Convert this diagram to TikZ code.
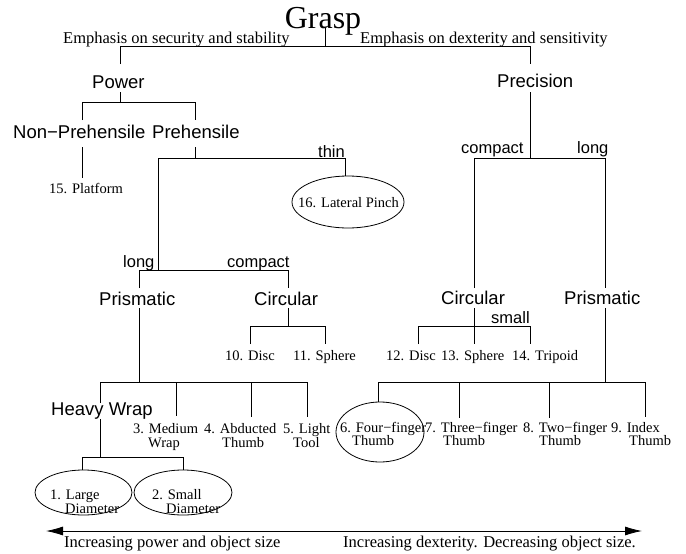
\documentclass[tikz,border=0pt]{standalone}
\usepackage{fontspec}
\setmainfont{Liberation Serif}
\setsansfont{Liberation Sans}
\usetikzlibrary{shapes.geometric,arrows.meta}
\begin{document}
\begin{tikzpicture}[x=1pt,y=-1pt,
  lbl/.style={inner sep=0pt, anchor=base west},
  sml/.style={lbl, font=\fontsize{14.5}{14.5}\selectfont},
  med/.style={lbl, font=\fontsize{16.5}{16.5}\selectfont},
  smed/.style={lbl, font=\sffamily\fontsize{16.5}{16.5}\selectfont},
  big/.style={lbl, font=\sffamily\fontsize{18.5}{18.5}\selectfont},
  oval/.style={draw, ellipse, inner sep=0pt, line width=0.8pt},
  link/.style={line width=0.8pt},
  bothtip/.style={line width=0.8pt, {Latex[length=17pt,width=9pt]}-{Latex[length=17pt,width=9pt]}},
]
\useasboundingbox (0,0) rectangle (686,554);

% ---------- texts ----------
\node[lbl, font=\fontsize{32}{32}\selectfont, anchor=base] (grasp) at (323,28) {Grasp};
\node[med] (emL) at (63,43) {Emphasis on security and stability};
\node[med] (emR) at (360,43) {Emphasis on dexterity and sensitivity};
\node[big] (power) at (92,88) {Power};
\node[big] (precision) at (497,87) {Precision};
\node[big] (nonpre) at (13,138) {Non−Prehensile};
\node[big] (prehen) at (152,138) {Prehensile};
\node[sml] (platform) at (49,193) {15. Platform};
\node[smed] (thin) at (318,157) {thin};
\node[oval, minimum width=112, minimum height=52] (lateral) at (348,202) {};
\node[sml] (latT) at (298,207) {16. Lateral Pinch};
\node[smed] (longL) at (123,267) {long};
\node[smed] (compL) at (227,267) {compact};
\node[big] (prisL) at (99,305) {Prismatic};
\node[big] (circL) at (254,305) {Circular};
\node[sml] (discL) at (225,360) {10. Disc};
\node[sml] (sphL) at (293,360) {11. Sphere};
\node[smed] (compR) at (461,153) {compact};
\node[smed] (longR) at (577,153) {long};
\node[big] (circR) at (441,304) {Circular};
\node[big] (prisR) at (564,304) {Prismatic};
\node[smed] (small) at (491,323) {small};
\node[sml] (discR) at (386,360) {12. Disc};
\node[sml] (sphR) at (441,360) {13. Sphere};
\node[sml] (trip) at (512,360) {14. Tripoid};
\node[big] (heavy) at (51,415) {Heavy Wrap};
\node[sml] (med3) at (133,433) {3. Medium};
\node[sml] (med3b) at (148,447) {Wrap};
\node[sml] (abd4) at (204,433) {4. Abducted};
\node[sml] (abd4b) at (222,447) {Thumb};
\node[sml] (lt5) at (283,433) {5. Light};
\node[sml] (lt5b) at (293,447) {Tool};
\node[oval, minimum width=97, minimum height=45] (large) at (83.5,492.5) {};
\node[sml] (large1) at (50,499) {1. Large};
\node[sml] (large2) at (65,513) {Diameter};
\node[oval, minimum width=98, minimum height=45] (smalld) at (183,492.5) {};
\node[sml] (small1) at (152,499) {2. Small};
\node[sml] (small2) at (166,513) {Diameter};
\node[oval, minimum width=88, minimum height=60] (four) at (380,432) {};
\node[sml] (four1) at (340,432) {6. Four−finger};
\node[sml] (four2) at (352,445) {Thumb};
\node[sml] (three1) at (425,432) {7. Three−finger};
\node[sml] (three2) at (443,445) {Thumb};
\node[sml] (two1) at (523,432) {8. Two−finger};
\node[sml] (two2) at (539,445) {Thumb};
\node[sml] (idx1) at (611,432) {9. Index};
\node[sml] (idx2) at (629,445) {Thumb};
\node[med] (botL) at (64,547) {Increasing power and object size};
\node[med] (botR) at (343,547) {Increasing dexterity. Decreasing object size.};

% ---------- junction coordinates ----------
\coordinate (gJ) at (325,46);
\coordinate (eL) at (120,46);
\coordinate (eR) at (530,46);
\coordinate (powTop) at (120,64);
\coordinate (precTop) at (530,64);
\coordinate (powBot) at (120,92);
\coordinate (powJ) at (120,102);
\coordinate (pjL) at (82,102);
\coordinate (pjR) at (195,102);
\coordinate (npTop) at (82,120);
\coordinate (prTop) at (195,120);
\coordinate (npBot) at (82,147);
\coordinate (platTop) at (82,178);
\coordinate (prBot) at (195,147);
\coordinate (prJ) at (195,158);
\coordinate (thL) at (158,158);
\coordinate (thR) at (345,158);
\coordinate (lcJ) at (158,270);
\coordinate (lcL) at (139,270);
\coordinate (lcR) at (288,270);
\coordinate (prisLTop) at (139,288);
\coordinate (circLTop) at (288,288);
\coordinate (circLBot) at (288,308);
\coordinate (cJ) at (288,326);
\coordinate (cjL) at (250,326);
\coordinate (cjR) at (325,326);
\coordinate (discLTop) at (250,344);
\coordinate (sphLTop) at (325,344);
\coordinate (prisLBot) at (139,308);
\coordinate (pJ) at (139,382);
\coordinate (pjL2) at (100,382);
\coordinate (pjR2) at (307,382);
\coordinate (j3) at (176,382);
\coordinate (j4) at (251,382);
\coordinate (heavyTop) at (100,403);
\coordinate (med3Top) at (176,416);
\coordinate (abdTop) at (251,417);
\coordinate (ltTop) at (307,417);
\coordinate (heavyBot) at (100,419);
\coordinate (hJ) at (100,457);
\coordinate (hjL) at (82,457);
\coordinate (hjR) at (183,457);
\coordinate (precBot) at (530,92);
\coordinate (precJ) at (530,158);
\coordinate (rjL) at (474,158);
\coordinate (rjR) at (605,158);
\coordinate (circRTop) at (474,288);
\coordinate (prisRTop) at (605,288);
\coordinate (circRBot) at (474,308);
\coordinate (crL) at (418,326);
\coordinate (crR) at (530,326);
\coordinate (discRTop) at (418,344);
\coordinate (sphRTop) at (474,344);
\coordinate (tripTop) at (530,344);
\coordinate (prisRBot) at (605,308);
\coordinate (prJ2) at (605,382);
\coordinate (qL) at (378,382);
\coordinate (qR) at (645,382);
\coordinate (j7) at (459,382);
\coordinate (j8) at (549,382);
\coordinate (q7) at (459,418);
\coordinate (q8) at (549,418);
\coordinate (q9) at (645,417);
\coordinate (arL) at (46,531);
\coordinate (arR) at (642,531);

% ---------- connectors ----------
\draw[link] (gJ |- grasp.base) -- (gJ);
\draw[link] (powTop) -- (eL) -- (eR) -- (precTop);
\draw[link] (powBot) -- (powJ);
\draw[link] (npTop) -- (pjL) -- (pjR) -- (prTop);
\draw[link] (npBot) -- (platTop);
\draw[link] (prBot) -- (prJ);
\draw[link] (lcJ) -- (thL) -- (thR) -- (thR |- lateral.north);
\draw[link] (prisLTop) -- (lcL) -- (lcR) -- (circLTop);
\draw[link] (circLBot) -- (cJ);
\draw[link] (discLTop) -- (cjL) -- (cjR) -- (sphLTop);
\draw[link] (prisLBot) -- (pJ);
\draw[link] (heavyTop) -- (pjL2) -- (pjR2) -- (ltTop);
\draw[link] (j3) -- (med3Top);
\draw[link] (j4) -- (abdTop);
\draw[link] (heavyBot) -- (hJ);
\draw[link] (hjL |- large.north) -- (hjL) -- (hjR) -- (hjR |- smalld.north);
\draw[link] (precBot) -- (precJ);
\draw[link] (circRTop) -- (rjL) -- (rjR) -- (prisRTop);
\draw[link] (circRBot) -- (sphRTop);
\draw[link] (discRTop) -- (crL) -- (crR) -- (tripTop);
\draw[link] (prisRBot) -- (prJ2);
\draw[link] (qL |- four.north) -- (qL) -- (qR) -- (q9);
\draw[link] (j7) -- (q7);
\draw[link] (j8) -- (q8);
\draw[bothtip] (arL) -- (arR);
\end{tikzpicture}
\end{document}
